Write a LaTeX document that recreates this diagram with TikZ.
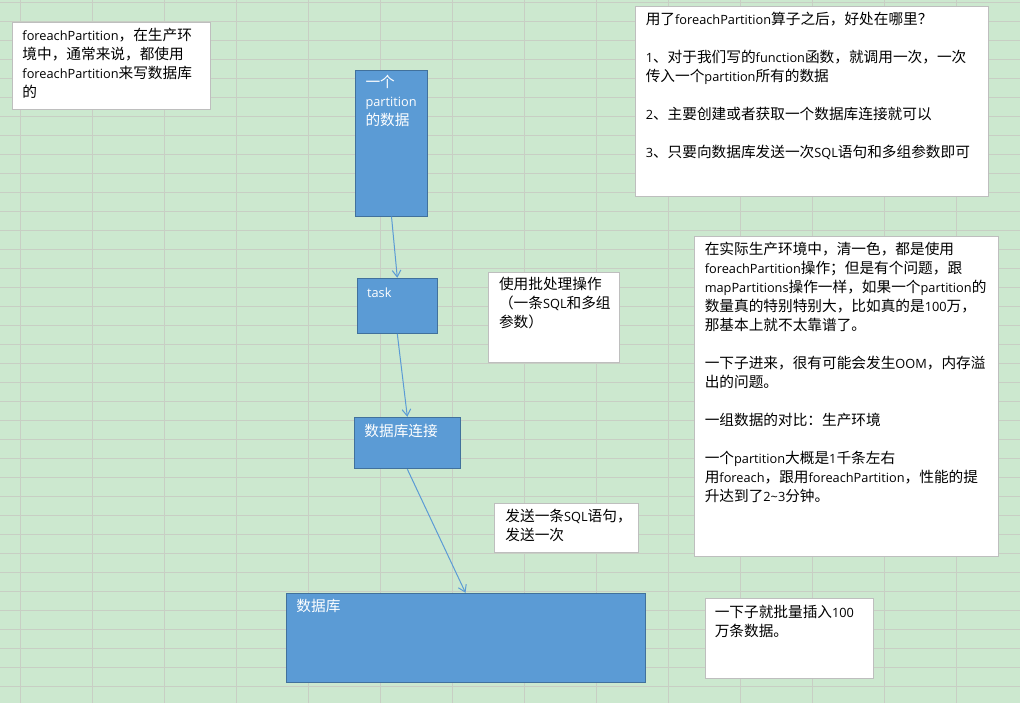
\documentclass[tikz,border=0pt]{standalone}
\usepackage{fontspec}
\setmainfont{Open Sans}[Scale=0.87]
\newfontfamily\cjkfont{Noto Sans CJK SC}
\usetikzlibrary{positioning,arrows.meta,fit}

% switch to the CJK face for ideographs and full-width punctuation
\XeTeXinterchartokenstate=1
\newXeTeXintercharclass\cjkclass
\newcommand\setcjkrange[2]{\count255=#1 \loop\XeTeXcharclass\count255=\cjkclass\relax\ifnum\count255<#2 \advance\count255 by 1 \repeat}
\setcjkrange{"3000}{"303F}
\setcjkrange{"4E00}{"9FFF}
\setcjkrange{"FF00}{"FFEF}
\XeTeXinterchartoks 0 \cjkclass = {\cjkfont}
\XeTeXinterchartoks 4095 \cjkclass = {\cjkfont}
\XeTeXinterchartoks \cjkclass 0 = {\rmfamily}
\XeTeXinterchartoks 4095 0 = {\rmfamily}

\definecolor{sheetgreen}{RGB}{204,232,207}
\definecolor{gridline}{RGB}{200,206,196}
\definecolor{shapeblue}{RGB}{91,155,213}
\definecolor{shapeedge}{RGB}{65,113,156}
\definecolor{noteedge}{RGB}{190,190,190}

\begin{document}
\begin{tikzpicture}[
    x=0.75pt, y=-0.75pt,
    blockbox/.style={draw=shapeedge, fill=shapeblue, line width=0.75pt, inner sep=0pt},
    notebox/.style={draw=noteedge, fill=white, line width=0.75pt, inner sep=0pt},
    txt/.style={anchor=north west, inner sep=0pt, align=left, font={\fontsize{11}{14.25}\selectfont}, execute at begin node=\strut},
    wtxt/.style={txt, text=white},
    flow/.style={-{Straight Barb[length=5pt, width=6.5pt]}, draw=shapeblue, line width=0.75pt}
]
    % sheet background with cell grid
    \fill[sheetgreen] (0,0) rectangle (1020,703);
    \useasboundingbox (0,0) rectangle (1020,703);
    \foreach \gy in {2,21,...,702}
        \draw[gridline, line width=0.75pt] (0,\gy) -- (1020,\gy);
    \foreach \gx in {20.7,92.7,...,1020}
        \draw[gridline, line width=0.75pt] (\gx,0) -- (\gx,703);

    % Flow column (blue shapes)
    \node[blockbox, fit={(355.3,70) (427.7,216)}] (part) {};
    \node[wtxt] (part-text) at ([shift={(10.5,5.6)}]part.north west) {一个\\partition\\的数据};

    \node[blockbox, fit={(357.3,278.3) (437.3,333.3)}] (task) {};
    \node[wtxt] (task-text) at ([shift={(10,6)}]task.north west) {task};

    \node[blockbox, fit={(354,417.3) (460.7,468.7)}] (conn) {};
    \node[wtxt] (conn-text) at ([shift={(10.7,5.7)}]conn.north west) {数据库连接};

    \node[blockbox, fit={(286,593.3) (645,682.3)}] (db) {};
    \node[wtxt] (db-text) at ([shift={(10.7,5)}]db.north west) {数据库};

    \draw[flow] (part.south) -- (task.north);
    \draw[flow] (task.south) -- (conn.north);
    \draw[flow] (conn.south) -- (db.north);

    % Notes (white text boxes)
    \node[notebox, fit={(12.7,22.7) (210.7,109.3)}] (tip) {};
    \node[txt] (tip-text) at ([shift={(10,5.6)}]tip.north west) {foreachPartition，在生产环\\境中，通常来说，都使用\\foreachPartition来写数据库\\的};

    \node[notebox, fit={(635.7,6.7) (988.3,196)}] (benefit) {};
    \node[txt] (benefit-text) at ([shift={(10.3,5.6)}]benefit.north west) {用了foreachPartition算子之后，好处在哪里？\\[14.25pt]
        1、对于我们写的function函数，就调用一次，一次\\传入一个partition所有的数据\\[14.25pt]
        2、主要创建或者获取一个数据库连接就可以\\[14.25pt]
        3、只要向数据库发送一次SQL语句和多组参数即可};

    \node[notebox, fit={(488.3,272.7) (619.3,362)}] (batch) {};
    \node[txt] (batch-text) at ([shift={(11,4.6)}]batch.north west) {使用批处理操作\\（一条SQL和多组\\参数）};

    \node[notebox, fit={(494.3,503.3) (638.3,552.3)}] (send) {};
    \node[txt] (send-text) at ([shift={(11.4,5.7)}]send.north west) {发送一条SQL语句，\\发送一次};

    \node[notebox, fit={(694,236.7) (998.3,556.7)}] (caveat) {};
    \node[txt] (caveat-text) at ([shift={(11,5.6)}]caveat.north west) {在实际生产环境中，清一色，都是使用\\foreachPartition操作；但是有个问题，跟\\mapPartitions操作一样，如果一个partition的\\数量真的特别特别大，比如真的是100万，\\那基本上就不太靠谱了。\\[14.25pt]
        一下子进来，很有可能会发生OOM，内存溢\\出的问题。\\[14.25pt]
        一组数据的对比：生产环境\\[14.25pt]
        一个partition大概是1千条左右\\用foreach，跟用foreachPartition，性能的提\\升达到了2\textasciitilde 3分钟。};

    \node[notebox, fit={(705,598.3) (873,678.3)}] (insert) {};
    \node[txt] (insert-text) at ([shift={(10,7.3)}]insert.north west) {一下子就批量插入100\\万条数据。};
\end{tikzpicture}
\end{document}
